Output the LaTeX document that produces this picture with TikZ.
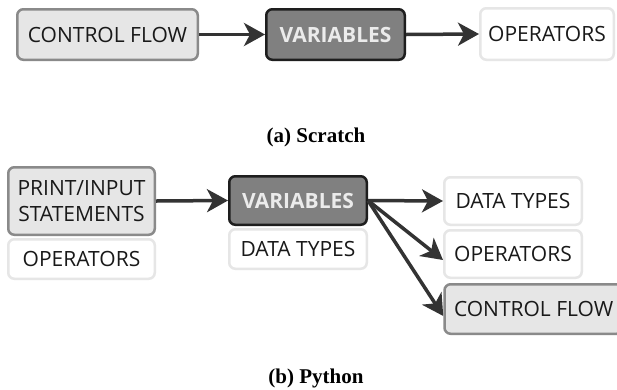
\documentclass[tikz,border=0pt]{standalone}
\usepackage{fontspec}
\newfontfamily\boxfont{Open Sans}
\newfontfamily\capfont{Liberation Serif}
\usetikzlibrary{arrows.meta}
\definecolor{lightfill}{HTML}{E6E6E6}
\definecolor{lightedge}{HTML}{8A8A8A}
\definecolor{darkfill}{HTML}{808080}
\definecolor{darkedge}{HTML}{1E1E1E}
\definecolor{paleedge}{HTML}{E6E6E6}
\definecolor{arrowcol}{HTML}{333333}
\tikzset{
  box/.style={rectangle, rounded corners=6pt, inner sep=0pt, align=center,
    font=\boxfont\fontsize{21}{26}\selectfont, text=black!90},
  lightbox/.style={box, fill=lightfill, draw=lightedge, line width=2.5pt},
  darkbox/.style={box, fill=darkfill, draw=darkedge, line width=2.5pt,
    text=white!92!black, font=\boxfont\bfseries\fontsize{21}{26}\selectfont},
  plainbox/.style={box, fill=white, draw=paleedge, line width=2.5pt},
  flow/.style={draw=arrowcol, line width=3.5pt,
    -{Stealth[length=21pt,width=23pt,inset=6pt]}},
  caption/.style={font=\capfont\bfseries\fontsize{21}{25}\selectfont}
}
\begin{document}
\begin{tikzpicture}[x=1pt,y=-1pt]
\useasboundingbox (0,0) rectangle (617,389);
\clip (0,0) rectangle (617,389);
\fill[white] (0,0) rectangle (617,389);

% Scratch progression
\node[lightbox, minimum width=180.5pt, minimum height=50.5pt] (cfa) at (107.5,34.5) {CONTROL FLOW};
\node[darkbox, minimum width=138.5pt, minimum height=50.5pt] (vara) at (335.5,34.5) {VARIABLES};
\node[plainbox, minimum width=133.5pt, minimum height=51.5pt] (opa) at (547,34) {OPERATORS};
\draw[flow] (cfa.east) -- (vara.west);
\draw[flow] (vara.east) -- (opa.west);
\node[caption] (capa) at (316,137) {(a) Scratch};

% Python progression
\node[lightbox, minimum width=146.5pt, minimum height=67.5pt] (pis) at (81.5,201) {PRINT/INPUT\\STATEMENTS};
\node[plainbox, minimum width=146.5pt, minimum height=39.5pt] (opb) at (81.5,259) {OPERATORS};
\node[darkbox, minimum width=137.5pt, minimum height=48.5pt] (varb) at (298,200.5) {VARIABLES};
\node[plainbox, minimum width=137.5pt, minimum height=39.5pt] (dtb) at (298,249) {DATA TYPES};
\node[plainbox, minimum width=137.5pt, minimum height=47.5pt] (dtc) at (513,201) {DATA TYPES};
\node[plainbox, minimum width=137.5pt, minimum height=47.5pt] (opc) at (513,254) {OPERATORS};
\node[lightbox, inner xsep=9.5pt, minimum height=49.5pt, anchor=west] (cfc) at (443.25,309) {CONTROL FLOW};
\draw[flow] (pis.east) -- (varb.west);
\draw[flow] (varb.east) -- (dtc.west);
\draw[flow] (varb.east) -- ([yshift=-6pt]opc.west);
\draw[flow] (varb.east) -- ([yshift=-7pt]cfc.west);
\node[caption] (capb) at (316,378) {(b) Python};
\end{tikzpicture}
\end{document}
